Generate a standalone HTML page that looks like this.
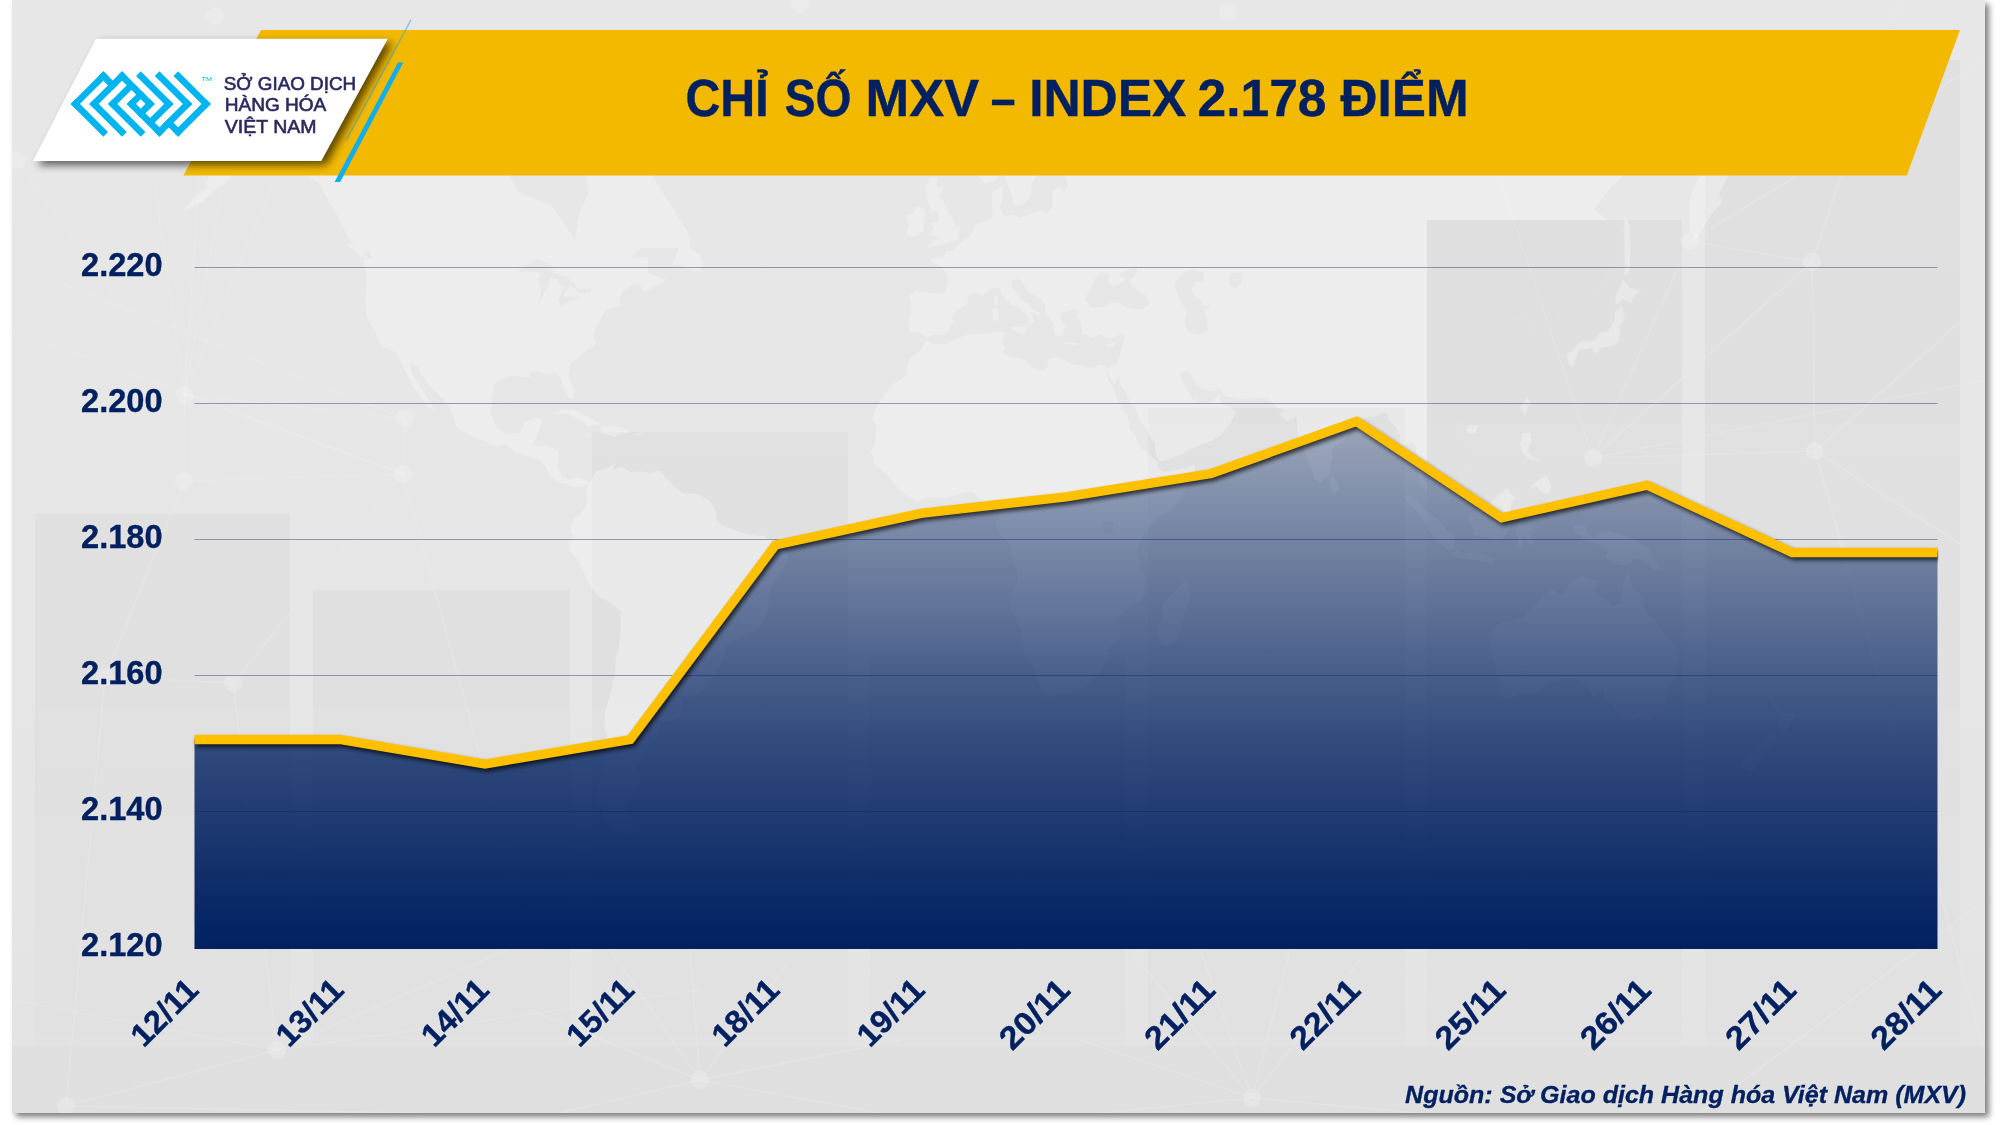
<!DOCTYPE html>
<html lang="vi"><head><meta charset="utf-8"><title>CHỈ SỐ MXV – INDEX</title>
<style>
html,body{margin:0;padding:0;background:#fff;}
body{width:2000px;height:1125px;overflow:hidden;position:relative;font-family:"Liberation Sans",sans-serif;}
#panel{position:absolute;left:12px;top:0;width:1973px;height:1113px;background:linear-gradient(#e7e7e7,#e6e6e6 60%,#e3e3e3);box-shadow:4px 4px 6px rgba(0,0,0,.5);}
svg{position:absolute;left:0;top:0;will-change:transform;}
text{font-family:"Liberation Sans",sans-serif;}
</style></head><body>
<div id="panel"></div>
<svg width="2000" height="1125" viewBox="0 0 2000 1125">
<defs>
<linearGradient id="ag" x1="0" y1="421" x2="0" y2="948.5" gradientUnits="userSpaceOnUse">
<stop offset="0" stop-color="#002060" stop-opacity=".31"/>
<stop offset="0.605" stop-color="#002060" stop-opacity=".776"/>
<stop offset="0.737" stop-color="#002060" stop-opacity=".853"/>
<stop offset="0.87" stop-color="#002060" stop-opacity=".935"/>
<stop offset="1" stop-color="#002060" stop-opacity="1"/>
</linearGradient>
<filter id="ls" x="-5%" y="-20%" width="110%" height="140%"><feGaussianBlur in="SourceAlpha" stdDeviation="2.2"/><feOffset dx="1.5" dy="3.2"/><feComponentTransfer><feFuncA type="linear" slope=".7"/></feComponentTransfer></filter>
<filter id="bs" x="-10%" y="-20%" width="125%" height="150%"><feGaussianBlur in="SourceAlpha" stdDeviation="4"/><feOffset dx="5" dy="4"/><feComponentTransfer><feFuncA type="linear" slope=".62"/></feComponentTransfer></filter>
<linearGradient id="bg" x1="0" y1="60" x2="0" y2="1113" gradientUnits="userSpaceOnUse"><stop offset="0" stop-color="#000" stop-opacity=".028"/><stop offset=".55" stop-color="#000" stop-opacity=".024"/><stop offset="1" stop-color="#000" stop-opacity=".007"/></linearGradient>
<linearGradient id="lg" x1="1300" y1="0" x2="1480" y2="0" gradientUnits="userSpaceOnUse"><stop offset="0" stop-color="#fff" stop-opacity=".27"/><stop offset="1" stop-color="#fff" stop-opacity="0"/></linearGradient>
<linearGradient id="dg" x1="1380" y1="0" x2="1520" y2="0" gradientUnits="userSpaceOnUse"><stop offset="0" stop-color="#000" stop-opacity="0"/><stop offset="1" stop-color="#000" stop-opacity=".03"/></linearGradient>
<mask id="hm" maskUnits="userSpaceOnUse" x="0" y="0" width="2000" height="1125"><rect width="2000" height="1125" fill="#fff"/><path d="M1090.2,307.6 1102.0,307.6 1111.5,302.5 1118.5,302.5 1125.6,306.9 1132.7,308.8 1142.2,308.8 1149.3,305.0 1146.9,296.1 1139.8,292.2 1132.7,286.3 1129.4,280.9 1135.1,276.2 1137.5,267.9 1130.4,269.3 1119.5,274.1 1125.6,280.3 1120.9,282.9 1112.4,286.9 1107.7,279.6 1110.0,274.8 1102.0,272.1 1095.8,277.6 1093.5,282.9 1088.8,290.9 1085.4,299.3ZM1177.7,278.9 1184.8,272.8 1194.2,269.3 1203.7,272.8 1203.7,281.6 1195.6,281.6 1194.2,287.6 1190.9,286.9 1193.3,296.1 1199.0,298.0 1202.7,305.7 1210.8,305.7 1203.7,311.9 1207.5,320.0 1207.5,331.4 1199.0,334.4 1191.9,333.2 1186.2,329.6 1184.3,322.4 1187.1,311.9 1182.4,303.8 1177.7,294.8 1174.4,286.3ZM1229.7,272.8 1241.5,272.8 1241.5,282.9 1234.4,289.6 1228.8,284.3ZM517.8,270.7 536.8,258.8 551.0,263.7 553.3,272.8 565.1,276.2 574.6,282.9 577.0,292.8 591.2,292.8 591.2,288.3 579.3,289.6 567.5,286.3 562.8,296.1 579.3,297.4 560.4,305.7 559.0,299.3 562.8,289.6 558.0,279.6 551.0,277.6 546.2,289.6 537.7,303.8 541.5,289.6 538.2,279.6 541.5,272.8 527.3,271.4ZM1104.4,520.4 1113.8,521.8 1112.4,532.7 1104.4,533.6 1102.9,526.5Z" fill="#000"/></mask>
<clipPath id="lc"><rect x="190" y="380" width="1748.3" height="580"/></clipPath>
<clipPath id="mc"><rect x="12" y="60" width="1973" height="1053"/></clipPath>
<clipPath id="b6"><rect x="1427" y="220" width="255" height="893"/></clipPath>
<clipPath id="pc"><rect x="12" y="0" width="1973" height="1113"/></clipPath>
</defs>
<g clip-path="url(#pc)">
<g fill="url(#bg)"><rect x="35" y="514" width="255" height="532"/><rect x="313" y="590" width="257" height="456"/><rect x="592" y="432" width="256" height="614"/><rect x="870" y="655" width="255" height="391"/><rect x="1148" y="408" width="257" height="638"/><rect x="1427" y="220" width="255" height="826"/><rect x="1705" y="60" width="255" height="986"/></g>
<rect x="12" y="1046" width="1973" height="67" fill="#000" fill-opacity=".017"/>
<g clip-path="url(#mc)"><path d="M167.8,77.9 215.1,37.3 286.1,51.5 347.6,51.5 409.0,77.9 442.2,77.9 503.6,77.9 536.8,71.5 565.1,65.0 569.9,102.1 546.2,124.5 517.8,145.4 508.4,174.2 517.8,192.1 551.0,204.8 565.1,225.1 574.6,240.5 579.3,213.1 588.8,192.1 584.1,164.9 586.4,140.3 607.7,145.4 621.9,155.3 626.6,174.2 645.5,164.9 659.7,187.7 673.9,209.0 688.1,232.9 688.1,247.9 669.2,247.9 640.8,247.9 631.4,258.8 647.9,256.6 647.9,272.8 664.5,279.6 669.2,272.8 664.5,281.6 643.2,292.8 640.8,286.3 636.1,282.9 621.9,291.5 619.5,302.5 621.9,305.0 605.3,310.1 603.0,315.0 595.9,327.2 593.5,336.1 595.9,343.7 586.4,350.6 579.3,356.3 569.9,364.7 568.5,375.7 574.6,391.7 573.2,398.6 568.9,398.0 561.8,384.8 561.8,378.4 555.7,372.9 548.6,374.6 536.8,371.3 529.7,372.9 529.7,377.3 522.6,376.7 508.4,375.7 494.2,383.8 492.8,394.4 490.4,412.5 496.6,427.7 506.0,434.2 520.2,432.7 524.9,421.2 536.8,417.6 542.4,420.2 539.1,430.2 535.8,437.7 533.0,446.1 546.2,446.1 559.0,450.0 557.1,467.0 562.8,478.1 569.9,480.0 577.0,476.7 586.4,480.5 588.8,483.8 582.6,487.2 574.6,487.2 566.6,483.8 560.4,482.4 548.6,474.3 546.2,467.0 539.1,459.8 527.3,456.4 515.5,452.5 506.0,444.1 496.6,446.6 484.7,441.7 470.5,435.2 456.3,427.7 454.0,417.6 449.3,407.4 442.2,398.0 435.1,390.7 428.0,383.8 420.9,374.0 417.6,365.8 410.0,363.6 411.4,372.9 419.5,384.8 425.6,394.4 431.3,404.8 435.1,410.0 430.3,408.4 422.3,399.6 413.8,388.0 409.0,378.4 404.3,369.1 399.1,359.1 392.5,350.6 382.6,347.8 376.9,336.1 373.6,328.4 367.4,318.1 365.1,302.5 366.5,286.3 366.5,274.1 363.2,259.5 371.2,258.8 370.3,251.6 357.0,247.9 347.6,236.7 338.1,217.1 328.6,200.6 319.2,183.3 305.0,174.2 290.8,166.8 271.9,164.9 253.0,157.2 238.8,160.1 234.0,174.2 224.6,183.3 212.8,192.1 200.9,203.2 182.0,211.5 191.5,200.6 205.7,187.7 208.0,176.0 196.2,176.0 186.7,164.9 172.5,155.3 167.8,140.3 182.0,132.0 191.5,119.1 177.3,116.9 158.4,105.6 174.9,96.3 186.7,99.8 179.6,87.8ZM371.2,37.3 394.9,-46.6 480.0,-125.2 517.8,-182.7 621.9,-235.5 659.7,-199.2 612.4,-112.5 584.1,-66.9 574.6,-10.0 612.4,30.0 631.4,51.5 659.7,92.7 650.3,135.1 631.4,140.3 607.7,119.1 584.1,116.9 607.7,84.1 579.3,51.5 551.0,51.5 536.8,14.6 503.6,22.4 480.0,51.5 456.3,65.0 432.7,65.0 409.0,51.5ZM607.7,-88.7 631.4,-152.4 692.8,-209.6 811.1,-235.5 867.9,-152.4 858.4,-27.7 848.9,44.5 825.3,71.5 796.9,90.3 773.3,107.9 759.1,135.1 747.2,164.9 735.4,158.2 716.5,135.1 702.3,96.3 697.6,58.3 692.8,22.4 678.7,-37.0 640.8,-56.5ZM588.8,483.8 595.9,471.9 607.7,468.0 614.8,462.7 613.4,469.4 617.2,476.7 612.4,469.4 621.9,467.0 629.9,471.9 640.8,471.4 650.3,472.8 659.7,470.9 664.5,476.7 669.2,481.4 676.3,488.6 683.4,493.4 697.6,494.3 707.0,499.1 711.8,503.8 716.5,513.8 716.5,521.8 726.0,526.5 742.5,533.6 754.3,535.0 763.8,536.0 775.6,543.1 786.5,547.9 788.4,559.8 780.4,571.7 773.3,583.8 768.5,593.6 768.5,608.4 763.8,618.4 759.1,628.5 749.6,633.6 740.1,637.2 726.0,646.6 723.1,659.8 716.5,670.7 707.0,684.5 699.9,693.0 692.8,698.1 683.4,695.8 676.8,694.1 683.4,704.5 681.0,716.4 673.9,720.6 659.7,722.4 658.3,733.5 645.5,734.8 651.2,744.3 645.5,750.8 643.2,760.7 633.7,767.4 641.8,777.8 633.7,792.0 626.6,803.1 629.5,813.8 631.4,822.5 644.1,833.0 631.4,838.8 617.2,833.0 603.0,814.6 596.8,795.7 600.6,774.3 605.3,754.0 607.7,741.1 604.4,725.5 605.3,710.4 610.1,695.8 614.8,676.2 615.8,659.8 619.5,644.0 621.0,623.4 620.5,610.9 612.4,603.4 598.2,596.0 592.1,588.7 586.4,579.0 581.7,566.9 575.5,556.4 568.9,550.2 568.9,542.2 574.6,537.4 570.8,532.2 571.3,524.2 574.6,518.0 580.3,514.7 584.1,509.0 587.4,502.9 586.4,493.4 586.4,487.7ZM910.4,333.2 908.1,323.0 911.4,308.8 909.0,296.1 915.2,291.5 934.1,293.5 944.5,293.5 947.3,282.9 947.3,274.8 941.2,267.2 930.8,262.3 931.7,258.1 943.5,257.3 945.4,250.8 953.9,250.8 960.6,242.0 967.2,238.2 972.9,231.3 976.6,223.5 986.1,221.1 993.2,217.1 991.8,204.8 991.8,192.1 1002.7,185.9 1002.7,198.1 999.4,207.3 1004.1,217.1 1012.1,214.7 1020.2,217.9 1031.0,213.1 1040.5,210.6 1046.7,213.9 1052.3,207.3 1052.3,192.1 1059.4,185.9 1064.2,192.1 1067.9,185.0 1064.2,172.4 1073.6,169.6 1085.4,169.6 1094.9,164.9 1085.4,160.1 1071.2,163.0 1059.4,165.8 1053.7,155.3 1053.3,135.1 1068.9,115.8 1072.7,107.9 1058.5,104.4 1052.3,119.1 1038.1,137.2 1034.4,155.3 1041.9,166.8 1032.0,183.3 1030.1,198.1 1020.6,204.8 1014.5,205.7 1006.0,178.8 1003.1,171.4 993.2,181.5 983.7,183.3 977.6,174.2 976.6,155.3 983.7,138.2 1000.3,124.5 1012.1,102.1 1021.6,77.9 1035.8,58.3 1052.3,48.7 1074.6,37.3 1087.8,40.2 1099.6,51.5 1109.1,59.7 1132.7,67.6 1146.9,84.1 1146.9,98.6 1132.7,99.8 1113.8,93.9 1117.6,119.1 1130.4,125.6 1132.7,115.8 1144.6,119.1 1142.2,104.4 1154.0,96.3 1162.5,98.6 1162.5,74.1 1172.9,77.9 1189.5,75.4 1208.4,72.8 1225.0,68.9 1241.5,55.6 1260.5,65.0 1274.6,72.8 1279.4,51.5 1269.9,37.3 1277.0,9.9 1295.9,9.9 1297.3,37.3 1293.6,65.0 1300.7,90.3 1303.0,65.0 1307.8,22.4 1321.9,17.8 1333.8,-1.5 1359.8,-6.6 1364.5,-27.7 1397.6,-46.6 1426.0,-77.6 1447.3,-77.6 1459.1,-56.5 1482.8,-52.5 1489.9,-4.9 1515.9,6.7 1539.5,-4.9 1558.4,14.6 1567.9,37.3 1586.8,30.0 1610.5,30.0 1615.2,13.1 1643.6,16.2 1667.2,32.9 1695.6,37.3 1709.8,55.6 1733.5,58.3 1759.5,58.3 1761.8,51.5 1785.5,54.2 1804.4,65.0 1828.1,84.1 1851.7,102.1 1842.2,111.3 1823.3,107.9 1809.1,102.1 1799.7,115.8 1792.6,121.3 1802.0,138.2 1785.5,145.4 1768.9,155.3 1757.1,164.9 1740.5,164.9 1726.4,178.8 1719.3,193.8 1721.6,202.3 1712.2,213.1 1705.1,225.1 1695.6,240.5 1689.5,229.0 1689.5,200.6 1695.6,183.3 1709.8,160.1 1724.0,142.3 1712.2,147.4 1695.6,149.4 1683.8,167.7 1664.9,169.6 1643.6,171.4 1627.0,171.4 1610.5,187.7 1593.9,209.0 1603.4,217.1 1615.2,225.1 1621.3,231.3 1617.6,244.2 1617.6,258.8 1609.1,272.8 1598.6,286.3 1586.8,296.1 1576.4,294.8 1571.2,299.3 1566.5,306.9 1557.0,316.3 1563.2,327.2 1565.5,339.1 1562.2,344.9 1551.3,348.3 1550.4,339.1 1552.8,331.4 1544.2,327.2 1545.7,318.1 1539.5,316.3 1527.7,322.4 1529.1,310.7 1518.2,316.3 1509.7,321.2 1513.5,327.2 1515.9,331.4 1525.3,329.6 1532.4,332.0 1524.4,337.3 1517.3,344.9 1522.0,351.8 1529.1,363.0 1525.3,370.2 1530.1,374.0 1528.2,382.1 1520.6,391.7 1515.9,399.6 1508.8,406.4 1499.3,411.0 1490.8,413.6 1480.4,417.6 1474.7,418.6 1474.7,423.7 1471.9,417.6 1465.3,417.1 1457.7,422.7 1453.4,430.2 1459.1,440.2 1466.2,446.6 1470.0,457.3 1469.5,466.1 1460.5,471.9 1456.7,476.7 1449.7,480.5 1449.2,474.3 1442.6,470.9 1437.8,464.6 1430.7,461.2 1426.9,458.3 1425.1,467.0 1422.7,477.6 1427.4,486.2 1433.1,490.0 1441.6,502.9 1443.0,512.3 1445.4,515.2 1437.8,512.3 1432.1,508.1 1427.9,495.7 1423.6,488.6 1418.0,483.8 1418.9,474.3 1418.9,464.6 1416.5,454.9 1415.1,443.6 1409.4,441.7 1403.8,446.1 1399.0,444.1 1400.0,435.2 1396.2,426.7 1389.6,421.2 1387.2,413.6 1381.1,412.5 1376.3,416.1 1369.2,416.6 1364.5,418.6 1363.6,423.7 1355.0,427.7 1348.0,435.2 1342.3,441.7 1335.2,446.1 1331.4,450.0 1332.8,458.3 1330.5,466.1 1330.5,472.8 1326.7,477.6 1322.9,480.0 1319.6,483.4 1314.8,479.1 1311.1,467.0 1306.8,459.8 1304.4,450.0 1299.7,440.2 1297.3,430.2 1296.9,420.2 1295.9,415.1 1293.6,419.2 1286.5,421.2 1279.4,414.1 1284.1,410.5 1277.0,407.4 1271.3,401.2 1267.5,397.5 1255.7,398.0 1243.9,399.1 1232.1,397.5 1224.0,395.9 1221.7,389.1 1212.2,391.2 1203.7,389.1 1196.6,384.3 1192.8,377.3 1189.5,371.8 1183.8,371.3 1180.0,374.6 1183.4,382.7 1189.5,390.7 1190.4,396.5 1194.2,401.7 1195.6,394.4 1197.1,402.2 1203.7,404.3 1210.8,403.3 1217.9,395.4 1219.8,392.8 1220.2,401.2 1224.0,405.3 1230.7,406.9 1235.9,412.5 1231.1,421.7 1225.9,430.2 1220.2,435.2 1213.2,440.2 1199.9,445.1 1189.5,450.0 1180.0,454.9 1168.2,459.8 1159.7,461.2 1157.3,457.3 1155.0,450.0 1155.0,442.7 1149.3,435.2 1144.6,426.2 1138.4,418.6 1136.5,410.0 1130.4,403.3 1127.1,394.4 1120.0,383.8 1118.1,375.7 1115.2,384.8 1111.5,381.1 1107.7,373.5 1106.7,367.4 1114.8,365.8 1118.1,360.2 1120.9,351.2 1123.3,342.0 1124.2,335.0 1118.5,335.0 1112.4,337.9 1106.7,338.5 1099.6,334.4 1092.5,337.9 1086.4,335.0 1082.1,333.2 1080.7,324.8 1079.3,320.0 1076.9,317.5 1077.4,313.2 1079.8,311.3 1076.0,309.5 1071.2,309.5 1066.5,310.7 1064.2,313.8 1060.8,311.9 1060.4,318.1 1062.7,321.8 1066.5,327.2 1062.7,330.2 1062.7,336.1 1059.0,336.1 1055.6,334.4 1053.3,328.4 1053.7,324.8 1051.4,321.2 1047.6,316.9 1044.8,311.9 1045.2,304.4 1040.5,299.3 1033.4,294.8 1026.3,289.6 1021.6,281.6 1017.8,278.9 1011.2,280.9 1011.2,287.6 1017.3,292.8 1020.2,299.3 1024.9,303.1 1029.6,303.8 1028.7,306.3 1034.4,309.5 1040.5,313.8 1039.1,316.3 1033.4,311.9 1031.5,316.3 1034.4,321.2 1031.0,324.8 1027.3,327.8 1027.7,322.4 1029.2,319.3 1026.3,314.4 1022.5,311.3 1018.3,307.6 1011.2,304.4 1005.0,299.3 1001.7,294.1 999.4,288.9 994.6,286.9 988.5,290.9 982.3,295.4 975.2,293.5 969.6,294.1 967.2,299.3 968.1,303.8 963.4,306.9 956.8,310.1 951.6,318.1 953.9,323.0 949.7,328.4 944.5,334.4 932.2,335.0 927.5,338.5 923.2,335.5 918.5,332.0ZM925.6,340.2 934.1,343.7 943.5,344.3 953.0,340.2 967.2,334.4 986.1,333.2 1000.3,331.4 1005.0,333.8 1002.7,342.0 1005.0,350.6 1001.2,351.8 1007.4,355.7 1015.4,356.9 1025.4,360.2 1033.4,367.4 1045.2,370.7 1048.5,364.7 1047.6,359.1 1054.7,356.9 1062.7,359.1 1072.2,364.1 1083.1,366.3 1092.5,368.0 1099.6,364.7 1105.8,365.8 1106.7,372.9 1107.7,378.4 1112.4,386.4 1116.2,397.0 1120.9,404.8 1121.9,410.0 1127.5,415.1 1129.4,422.7 1129.0,427.7 1135.1,435.2 1138.9,446.1 1146.0,451.5 1154.0,458.8 1157.8,462.2 1156.4,466.6 1163.5,471.9 1172.9,470.4 1184.8,468.0 1195.2,465.1 1194.2,471.9 1190.9,480.0 1184.8,491.0 1180.0,500.5 1170.6,510.0 1161.1,516.1 1151.7,525.6 1146.9,531.3 1142.2,536.9 1138.9,544.5 1136.5,552.6 1139.8,559.8 1140.8,569.3 1144.6,572.7 1145.0,583.8 1145.5,593.6 1139.8,600.9 1130.4,606.9 1123.3,613.4 1117.6,618.4 1120.0,628.5 1120.9,638.8 1111.5,645.6 1108.1,649.2 1108.1,659.8 1101.0,669.0 1094.9,677.8 1086.4,686.2 1078.3,691.8 1068.9,693.6 1057.1,694.1 1047.6,697.6 1040.5,694.1 1039.1,684.5 1034.8,673.4 1031.0,663.1 1024.9,654.5 1021.6,638.8 1021.6,631.1 1015.4,618.4 1008.8,605.9 1010.7,593.6 1016.9,581.4 1018.3,571.7 1014.5,562.2 1011.2,550.2 1008.8,543.1 1000.3,535.0 995.6,526.5 997.0,519.4 999.4,510.0 998.4,503.8 994.2,500.5 986.1,501.0 980.4,501.4 974.3,492.4 966.2,491.9 957.7,494.3 945.9,498.1 938.8,497.6 929.4,497.2 917.5,501.0 910.4,498.1 898.6,489.1 891.5,480.0 888.2,475.7 882.0,470.4 874.0,463.2 873.5,457.3 870.2,451.5 875.0,445.1 875.4,432.7 876.4,425.2 872.6,420.2 873.5,414.1 877.3,405.8 883.0,396.5 889.1,389.1 892.5,383.8 901.0,379.4 906.6,374.0 906.6,364.7 910.4,358.0 917.5,352.9 921.3,349.5ZM1186.2,579.0 1190.9,596.0 1187.1,605.9 1182.4,623.4 1176.7,641.4 1168.2,646.6 1161.1,644.0 1158.8,633.6 1157.8,626.0 1162.5,618.4 1162.5,603.4 1168.2,598.5 1175.3,592.6 1180.0,586.3ZM1492.2,628.5 1489.9,641.4 1489.9,651.9 1494.6,662.5 1499.3,678.9 1497.0,694.7 1508.8,698.7 1518.2,694.1 1537.2,692.4 1549.0,683.4 1563.2,679.5 1575.0,678.9 1586.8,685.6 1593.9,697.6 1603.4,687.3 1604.8,701.6 1612.8,704.5 1617.6,716.4 1631.8,721.2 1638.8,717.6 1645.9,722.4 1653.0,715.8 1662.5,712.2 1666.3,698.7 1669.6,687.3 1675.3,678.9 1679.1,662.5 1676.7,646.6 1667.2,636.2 1660.1,628.5 1655.4,619.9 1645.0,613.4 1642.6,603.4 1640.3,593.6 1633.2,590.2 1630.3,579.0 1627.0,572.7 1623.2,582.9 1622.3,593.6 1619.9,603.4 1612.8,605.9 1603.4,598.5 1596.3,595.0 1593.9,588.7 1599.6,579.9 1591.6,579.0 1582.1,576.6 1572.6,579.9 1567.9,586.3 1565.5,593.6 1558.4,593.6 1551.3,588.7 1544.2,595.0 1537.2,603.4 1531.0,608.4 1525.3,616.4 1513.5,619.9 1504.0,621.9ZM1572.6,525.6 1584.5,525.1 1587.8,533.6 1593.9,537.4 1603.4,529.8 1612.8,532.2 1619.9,534.1 1631.8,538.4 1641.2,544.5 1650.7,550.2 1650.7,555.0 1660.1,566.9 1664.9,571.7 1653.0,569.3 1643.6,561.2 1634.1,558.3 1629.4,564.5 1619.9,565.0 1610.5,559.8 1605.7,557.4 1608.1,552.6 1603.4,546.4 1593.9,542.6 1584.5,540.7 1581.1,536.0 1577.4,533.6ZM1468.6,514.7 1475.7,513.3 1480.4,508.6 1487.5,505.2 1494.6,499.1 1501.7,492.4 1506.4,488.6 1511.1,494.3 1515.9,498.1 1511.1,502.9 1510.2,510.0 1513.5,517.1 1508.8,521.8 1508.8,528.9 1503.1,538.4 1494.6,540.7 1487.5,536.9 1480.4,536.9 1473.3,535.0 1473.3,527.9 1468.6,523.2ZM1403.8,495.7 1414.2,497.2 1418.9,503.8 1428.4,512.3 1435.5,518.0 1442.6,524.2 1447.3,531.3 1454.4,536.0 1453.9,549.3 1447.3,549.3 1437.8,541.7 1430.7,533.6 1426.0,525.6 1419.9,514.7 1414.2,508.6 1407.1,502.9ZM1451.1,554.0 1456.7,550.2 1466.2,553.6 1478.0,552.6 1486.5,555.0 1494.6,558.3 1494.1,562.6 1482.8,561.2 1463.8,558.8 1456.7,556.9ZM1518.2,547.9 1518.2,538.4 1515.9,531.3 1519.7,520.4 1525.3,516.1 1534.8,517.1 1544.2,514.2 1541.9,519.4 1532.4,519.9 1524.4,519.9 1522.0,526.1 1527.7,526.1 1536.2,525.6 1531.5,531.3 1527.7,531.3 1531.5,537.4 1533.8,544.5 1528.6,544.5 1525.3,536.9 1522.5,536.0 1523.0,547.9ZM1523.0,432.7 1531.0,433.2 1531.5,442.7 1527.7,450.0 1530.1,454.9 1539.5,461.2 1534.8,459.8 1525.3,456.4 1522.0,451.0 1519.7,444.1ZM1530.1,488.6 1537.2,480.5 1546.6,475.2 1551.3,486.2 1549.9,491.9 1546.6,494.8 1540.5,491.0 1537.2,486.2ZM1572.2,350.6 1579.7,342.0 1593.9,340.8 1600.1,333.2 1608.1,331.4 1614.3,321.2 1615.2,311.3 1621.8,306.3 1624.7,318.1 1619.9,326.0 1619.9,333.2 1618.5,342.0 1614.3,344.9 1609.1,346.6 1601.0,347.2 1599.6,349.5 1595.3,353.5 1591.6,347.8 1582.1,349.5 1577.4,351.8 1576.4,357.4 1572.6,366.3 1569.3,365.8 1567.9,359.1 1566.5,354.6 1570.3,351.8ZM1615.2,302.5 1616.6,294.1 1623.2,279.6 1629.4,287.6 1640.3,290.9 1634.1,296.1 1630.3,302.5 1622.3,298.7 1617.6,305.0ZM1624.7,214.7 1629.4,225.1 1630.8,247.9 1629.4,269.3 1624.7,276.2 1624.7,255.2 1623.7,232.9ZM1527.7,398.6 1530.1,402.2 1524.4,415.1 1520.6,407.4 1524.4,400.7ZM1331.4,475.2 1337.5,481.4 1339.9,488.6 1334.7,493.4 1330.5,488.6 1330.0,481.4ZM1468.6,425.2 1478.0,425.2 1475.7,432.2 1469.5,434.2 1466.7,430.2ZM927.0,247.9 936.4,245.7 948.3,242.7 959.1,239.0 957.7,234.4 961.0,227.4 953.9,225.1 953.0,219.5 946.9,210.6 943.5,200.6 939.8,198.1 943.5,186.8 935.0,185.9 938.8,177.9 929.4,177.9 926.0,187.7 927.0,198.1 929.4,204.8 930.3,210.6 937.4,210.6 938.8,218.7 938.8,221.9 931.7,222.7 933.1,229.0 930.3,232.9 928.4,235.2 936.4,236.7 938.8,238.2 931.7,240.5ZM923.7,231.3 915.2,235.9 905.7,235.2 908.1,225.1 905.7,217.1 912.8,213.1 917.5,206.5 924.6,209.0 925.6,213.1 923.7,221.1ZM839.5,107.9 848.9,97.4 867.9,102.1 877.3,96.3 889.1,113.5 882.0,121.3 867.9,130.9 856.0,128.8 846.6,126.7 848.9,119.1 839.5,114.7ZM1769.9,695.8 1778.4,707.5 1785.5,713.4 1796.4,714.6 1790.2,725.5 1782.2,737.9 1779.8,728.6 1775.1,724.3 1779.3,716.4ZM1769.9,732.3 1777.0,737.9 1769.9,750.8 1761.8,760.7 1752.4,771.5 1740.5,766.0 1750.0,754.0 1761.8,743.0ZM1012.1,327.2 1026.8,326.0 1024.4,335.0 1012.1,329.6ZM992.3,308.8 998.9,308.8 998.4,320.0 993.2,321.2ZM993.7,296.7 997.9,296.1 997.5,305.7 994.2,304.4ZM1064.2,342.0 1077.4,343.1 1076.0,344.9 1064.6,343.7ZM1105.8,344.9 1116.2,341.4 1113.8,346.0 1106.7,346.6ZM551.4,415.6 562.8,409.5 574.6,410.0 588.8,417.6 602.0,424.2 586.4,425.7 584.1,421.7 572.2,416.1 565.1,413.0ZM601.1,426.2 610.1,425.7 621.9,426.7 629.5,432.2 621.9,433.7 614.8,436.7 607.7,434.2 601.1,433.2ZM582.6,433.2 592.1,434.7 587.4,436.2ZM635.1,433.2 642.2,433.7 640.8,435.5 635.1,435.2ZM672.5,264.4 681.0,242.0 689.5,236.7 690.5,247.9 699.9,255.2 703.3,267.2 697.6,270.7 689.1,269.3 681.0,265.1ZM346.6,242.7 360.3,246.4 369.3,259.5 359.4,255.9Z" fill="#fff" fill-opacity=".27" mask="url(#hm)"/></g>
<g clip-path="url(#b6)"><path d="M910.4,333.2 908.1,323.0 911.4,308.8 909.0,296.1 915.2,291.5 934.1,293.5 944.5,293.5 947.3,282.9 947.3,274.8 941.2,267.2 930.8,262.3 931.7,258.1 943.5,257.3 945.4,250.8 953.9,250.8 960.6,242.0 967.2,238.2 972.9,231.3 976.6,223.5 986.1,221.1 993.2,217.1 991.8,204.8 991.8,192.1 1002.7,185.9 1002.7,198.1 999.4,207.3 1004.1,217.1 1012.1,214.7 1020.2,217.9 1031.0,213.1 1040.5,210.6 1046.7,213.9 1052.3,207.3 1052.3,192.1 1059.4,185.9 1064.2,192.1 1067.9,185.0 1064.2,172.4 1073.6,169.6 1085.4,169.6 1094.9,164.9 1085.4,160.1 1071.2,163.0 1059.4,165.8 1053.7,155.3 1053.3,135.1 1068.9,115.8 1072.7,107.9 1058.5,104.4 1052.3,119.1 1038.1,137.2 1034.4,155.3 1041.9,166.8 1032.0,183.3 1030.1,198.1 1020.6,204.8 1014.5,205.7 1006.0,178.8 1003.1,171.4 993.2,181.5 983.7,183.3 977.6,174.2 976.6,155.3 983.7,138.2 1000.3,124.5 1012.1,102.1 1021.6,77.9 1035.8,58.3 1052.3,48.7 1074.6,37.3 1087.8,40.2 1099.6,51.5 1109.1,59.7 1132.7,67.6 1146.9,84.1 1146.9,98.6 1132.7,99.8 1113.8,93.9 1117.6,119.1 1130.4,125.6 1132.7,115.8 1144.6,119.1 1142.2,104.4 1154.0,96.3 1162.5,98.6 1162.5,74.1 1172.9,77.9 1189.5,75.4 1208.4,72.8 1225.0,68.9 1241.5,55.6 1260.5,65.0 1274.6,72.8 1279.4,51.5 1269.9,37.3 1277.0,9.9 1295.9,9.9 1297.3,37.3 1293.6,65.0 1300.7,90.3 1303.0,65.0 1307.8,22.4 1321.9,17.8 1333.8,-1.5 1359.8,-6.6 1364.5,-27.7 1397.6,-46.6 1426.0,-77.6 1447.3,-77.6 1459.1,-56.5 1482.8,-52.5 1489.9,-4.9 1515.9,6.7 1539.5,-4.9 1558.4,14.6 1567.9,37.3 1586.8,30.0 1610.5,30.0 1615.2,13.1 1643.6,16.2 1667.2,32.9 1695.6,37.3 1709.8,55.6 1733.5,58.3 1759.5,58.3 1761.8,51.5 1785.5,54.2 1804.4,65.0 1828.1,84.1 1851.7,102.1 1842.2,111.3 1823.3,107.9 1809.1,102.1 1799.7,115.8 1792.6,121.3 1802.0,138.2 1785.5,145.4 1768.9,155.3 1757.1,164.9 1740.5,164.9 1726.4,178.8 1719.3,193.8 1721.6,202.3 1712.2,213.1 1705.1,225.1 1695.6,240.5 1689.5,229.0 1689.5,200.6 1695.6,183.3 1709.8,160.1 1724.0,142.3 1712.2,147.4 1695.6,149.4 1683.8,167.7 1664.9,169.6 1643.6,171.4 1627.0,171.4 1610.5,187.7 1593.9,209.0 1603.4,217.1 1615.2,225.1 1621.3,231.3 1617.6,244.2 1617.6,258.8 1609.1,272.8 1598.6,286.3 1586.8,296.1 1576.4,294.8 1571.2,299.3 1566.5,306.9 1557.0,316.3 1563.2,327.2 1565.5,339.1 1562.2,344.9 1551.3,348.3 1550.4,339.1 1552.8,331.4 1544.2,327.2 1545.7,318.1 1539.5,316.3 1527.7,322.4 1529.1,310.7 1518.2,316.3 1509.7,321.2 1513.5,327.2 1515.9,331.4 1525.3,329.6 1532.4,332.0 1524.4,337.3 1517.3,344.9 1522.0,351.8 1529.1,363.0 1525.3,370.2 1530.1,374.0 1528.2,382.1 1520.6,391.7 1515.9,399.6 1508.8,406.4 1499.3,411.0 1490.8,413.6 1480.4,417.6 1474.7,418.6 1474.7,423.7 1471.9,417.6 1465.3,417.1 1457.7,422.7 1453.4,430.2 1459.1,440.2 1466.2,446.6 1470.0,457.3 1469.5,466.1 1460.5,471.9 1456.7,476.7 1449.7,480.5 1449.2,474.3 1442.6,470.9 1437.8,464.6 1430.7,461.2 1426.9,458.3 1425.1,467.0 1422.7,477.6 1427.4,486.2 1433.1,490.0 1441.6,502.9 1443.0,512.3 1445.4,515.2 1437.8,512.3 1432.1,508.1 1427.9,495.7 1423.6,488.6 1418.0,483.8 1418.9,474.3 1418.9,464.6 1416.5,454.9 1415.1,443.6 1409.4,441.7 1403.8,446.1 1399.0,444.1 1400.0,435.2 1396.2,426.7 1389.6,421.2 1387.2,413.6 1381.1,412.5 1376.3,416.1 1369.2,416.6 1364.5,418.6 1363.6,423.7 1355.0,427.7 1348.0,435.2 1342.3,441.7 1335.2,446.1 1331.4,450.0 1332.8,458.3 1330.5,466.1 1330.5,472.8 1326.7,477.6 1322.9,480.0 1319.6,483.4 1314.8,479.1 1311.1,467.0 1306.8,459.8 1304.4,450.0 1299.7,440.2 1297.3,430.2 1296.9,420.2 1295.9,415.1 1293.6,419.2 1286.5,421.2 1279.4,414.1 1284.1,410.5 1277.0,407.4 1271.3,401.2 1267.5,397.5 1255.7,398.0 1243.9,399.1 1232.1,397.5 1224.0,395.9 1221.7,389.1 1212.2,391.2 1203.7,389.1 1196.6,384.3 1192.8,377.3 1189.5,371.8 1183.8,371.3 1180.0,374.6 1183.4,382.7 1189.5,390.7 1190.4,396.5 1194.2,401.7 1195.6,394.4 1197.1,402.2 1203.7,404.3 1210.8,403.3 1217.9,395.4 1219.8,392.8 1220.2,401.2 1224.0,405.3 1230.7,406.9 1235.9,412.5 1231.1,421.7 1225.9,430.2 1220.2,435.2 1213.2,440.2 1199.9,445.1 1189.5,450.0 1180.0,454.9 1168.2,459.8 1159.7,461.2 1157.3,457.3 1155.0,450.0 1155.0,442.7 1149.3,435.2 1144.6,426.2 1138.4,418.6 1136.5,410.0 1130.4,403.3 1127.1,394.4 1120.0,383.8 1118.1,375.7 1115.2,384.8 1111.5,381.1 1107.7,373.5 1106.7,367.4 1114.8,365.8 1118.1,360.2 1120.9,351.2 1123.3,342.0 1124.2,335.0 1118.5,335.0 1112.4,337.9 1106.7,338.5 1099.6,334.4 1092.5,337.9 1086.4,335.0 1082.1,333.2 1080.7,324.8 1079.3,320.0 1076.9,317.5 1077.4,313.2 1079.8,311.3 1076.0,309.5 1071.2,309.5 1066.5,310.7 1064.2,313.8 1060.8,311.9 1060.4,318.1 1062.7,321.8 1066.5,327.2 1062.7,330.2 1062.7,336.1 1059.0,336.1 1055.6,334.4 1053.3,328.4 1053.7,324.8 1051.4,321.2 1047.6,316.9 1044.8,311.9 1045.2,304.4 1040.5,299.3 1033.4,294.8 1026.3,289.6 1021.6,281.6 1017.8,278.9 1011.2,280.9 1011.2,287.6 1017.3,292.8 1020.2,299.3 1024.9,303.1 1029.6,303.8 1028.7,306.3 1034.4,309.5 1040.5,313.8 1039.1,316.3 1033.4,311.9 1031.5,316.3 1034.4,321.2 1031.0,324.8 1027.3,327.8 1027.7,322.4 1029.2,319.3 1026.3,314.4 1022.5,311.3 1018.3,307.6 1011.2,304.4 1005.0,299.3 1001.7,294.1 999.4,288.9 994.6,286.9 988.5,290.9 982.3,295.4 975.2,293.5 969.6,294.1 967.2,299.3 968.1,303.8 963.4,306.9 956.8,310.1 951.6,318.1 953.9,323.0 949.7,328.4 944.5,334.4 932.2,335.0 927.5,338.5 923.2,335.5 918.5,332.0Z" fill="#000" fill-opacity=".04"/></g>
<g stroke="#fff" stroke-opacity=".13" stroke-width="1.1" fill="#fff" fill-opacity=".17"><line x1="184.5" y1="395" x2="405" y2="418"/><line x1="184.5" y1="395" x2="403" y2="474"/><line x1="184.5" y1="395" x2="184" y2="481"/><line x1="405" y1="418" x2="403" y2="474"/><line x1="403" y1="474" x2="184" y2="481"/><line x1="184.5" y1="395" x2="17" y2="160"/><line x1="184" y1="481" x2="105" y2="677"/><line x1="105" y1="677" x2="233" y2="683"/><line x1="403" y1="474" x2="233" y2="683"/><line x1="233" y1="683" x2="277" y2="1050"/><line x1="277" y1="1050" x2="66" y2="1106"/><line x1="105" y1="677" x2="66" y2="1106"/><line x1="1593" y1="458" x2="1815" y2="451"/><line x1="1593" y1="458" x2="1690" y2="241"/><line x1="1815" y1="451" x2="1812" y2="262"/><line x1="1690" y1="241" x2="1812" y2="262"/><line x1="1593" y1="458" x2="1812" y2="262"/><line x1="1815" y1="451" x2="1993" y2="1080"/><line x1="277" y1="1050" x2="530" y2="940"/><line x1="403" y1="474" x2="530" y2="940"/><line x1="700" y1="1080" x2="610" y2="950"/><line x1="700" y1="1080" x2="690" y2="950"/><line x1="700" y1="1080" x2="790" y2="960"/><line x1="700" y1="1080" x2="560" y2="1113"/><line x1="700" y1="1080" x2="880" y2="1113"/><line x1="700" y1="1080" x2="530" y2="1010"/><line x1="700" y1="1080" x2="900" y2="1040"/><line x1="1252" y1="1098" x2="1130" y2="950"/><line x1="1252" y1="1098" x2="1200" y2="950"/><line x1="1252" y1="1098" x2="1290" y2="950"/><line x1="1252" y1="1098" x2="1360" y2="960"/><line x1="1252" y1="1098" x2="1100" y2="1113"/><line x1="1252" y1="1098" x2="1420" y2="1113"/><line x1="1252" y1="1098" x2="1080" y2="1040"/><line x1="184.5" y1="395" x2="154" y2="180"/><line x1="184.5" y1="395" x2="199" y2="180"/><line x1="184.5" y1="395" x2="223.5" y2="180"/><line x1="184.5" y1="395" x2="275" y2="180"/><line x1="60" y1="283" x2="403" y2="418"/><line x1="12" y1="330" x2="405" y2="474"/><line x1="1593" y1="458" x2="1985" y2="380"/><line x1="1815" y1="451" x2="1985" y2="300"/><line x1="1690" y1="241" x2="1985" y2="60"/><line x1="1812" y1="262" x2="1900" y2="0"/><line x1="1593" y1="458" x2="1500" y2="180"/><line x1="277" y1="1050" x2="700" y2="990"/><line x1="277" y1="1050" x2="12" y2="1000"/><line x1="66" y1="1106" x2="420" y2="1113"/><line x1="1700" y1="1113" x2="1985" y2="900"/><line x1="1815" y1="451" x2="1985" y2="560"/><circle cx="700" cy="1080" r="9" stroke="none"/><circle cx="1252" cy="1098" r="9" stroke="none"/><circle cx="184.5" cy="395" r="9" stroke="none"/><circle cx="405" cy="418" r="9" stroke="none"/><circle cx="403" cy="474" r="9" stroke="none"/><circle cx="184" cy="481" r="9" stroke="none"/><circle cx="1593" cy="458" r="9" stroke="none"/><circle cx="1815" cy="451" r="9" stroke="none"/><circle cx="1690" cy="241" r="9" stroke="none"/><circle cx="1812" cy="262" r="9" stroke="none"/><circle cx="215" cy="16" r="9" stroke="none"/><circle cx="17" cy="160" r="9" stroke="none"/><circle cx="105" cy="677" r="9" stroke="none"/><circle cx="233" cy="683" r="9" stroke="none"/><circle cx="277" cy="1050" r="9" stroke="none"/><circle cx="66" cy="1106" r="9" stroke="none"/><circle cx="1993" cy="1080" r="9" stroke="none"/><circle cx="530" cy="940" r="9" stroke="none"/><circle cx="800" cy="4" r="9" stroke="none"/><circle cx="1228" cy="12" r="9" stroke="none"/></g>
</g>
<!-- header bar -->
<polygon points="261,30 1960,30 1906.8,175.5 183.4,175.5" fill="#F2B900"/>
<line x1="411" y1="19.8" x2="345.9" y2="140.9" stroke="#29ABE2" stroke-opacity=".6" stroke-width="1.3"/>
<polygon points="96,38.7 387.8,38.7 321.3,161 32.9,161" fill="#000" filter="url(#bs)"/>
<polygon points="96,38.7 387.8,38.7 321.3,161 32.9,161" fill="#fff"/>
<polygon points="398,62.4 403.3,62.4 340.2,182 334.6,182" fill="#0FAEEF"/>
<g fill="#00B4EF" transform="matrix(4.675,4.675,4.675,-4.675,140.75,103.94)"><rect x="-7.5" y="-7.5" width="1.0" height="7.0"/><rect x="6.5" y="0.5" width="1.0" height="7.0"/><rect x="-7.5" y="-7.5" width="7.0" height="1.0"/><rect x="0.5" y="6.5" width="7.0" height="1.0"/><rect x="-7.5" y="-1.5" width="3.0" height="1.0"/><rect x="4.5" y="0.5" width="3.0" height="1.0"/><rect x="-5.5" y="-5.5" width="1.0" height="7.0"/><rect x="4.5" y="-1.5" width="1.0" height="7.0"/><rect x="-5.5" y="-5.5" width="7.0" height="1.0"/><rect x="-1.5" y="4.5" width="7.0" height="1.0"/><rect x="-5.5" y="0.5" width="7.0" height="1.0"/><rect x="-1.5" y="-1.5" width="7.0" height="1.0"/><rect x="-3.5" y="-3.5" width="1.0" height="4.2"/><rect x="2.5" y="-0.7" width="1.0" height="4.2"/><rect x="-3.5" y="-3.5" width="7.0" height="1.0"/><rect x="-3.5" y="2.5" width="7.0" height="1.0"/><rect x="-1.5" y="-1.5" width="1.0" height="3.0"/><rect x="0.5" y="-1.5" width="1.0" height="3.0"/></g>
<text x="201.5" y="80.5" font-size="5.6" fill="#00B4EF" textLength="10.5" lengthAdjust="spacingAndGlyphs">TM</text>
<g fill="#2B2A5E" stroke="#2B2A5E" stroke-width=".6" font-size="18.2">
<text x="223.74" y="89.5" textLength="132.49" lengthAdjust="spacingAndGlyphs">SỞ GIAO DỊCH</text>
<text x="224.67" y="111.2" textLength="101.66" lengthAdjust="spacingAndGlyphs">HÀNG HÓA</text>
<text x="224.86" y="133.2" textLength="91.76" lengthAdjust="spacingAndGlyphs">VIỆT NAM</text>
</g>
<g font-size="51" font-weight="bold" fill="#002060" stroke="#002060" stroke-width=".4"><text x="685.48" y="115.8" textLength="83.23" lengthAdjust="spacingAndGlyphs">CHỈ</text><text x="784.72" y="115.8" textLength="66.74" lengthAdjust="spacingAndGlyphs">SỐ</text><text x="865.61" y="115.8" textLength="113.49" lengthAdjust="spacingAndGlyphs">MXV</text><text x="990.71" y="115.8" textLength="24.75" lengthAdjust="spacingAndGlyphs">–</text><text x="1029.17" y="115.8" textLength="157.29" lengthAdjust="spacingAndGlyphs">INDEX</text><text x="1197.58" y="115.8" textLength="128.87" lengthAdjust="spacingAndGlyphs">2.178</text><text x="1340.59" y="115.8" textLength="127.99" lengthAdjust="spacingAndGlyphs">ĐIỂM</text></g>
<!-- chart -->
<polygon points="194.50,949.0 194.50,739.50 339.75,739.50 485.00,764.00 630.25,739.50 775.50,545.00 920.75,513.40 1066.00,496.80 1211.25,473.50 1356.50,421.40 1501.75,517.80 1647.00,485.10 1792.25,552.50 1937.50,552.50 1937.50,949.0" fill="url(#ag)"/>
<g stroke="#002060" stroke-opacity=".4" stroke-width="1"><line x1="194.5" x2="1937.5" y1="267.5" y2="267.5"/><line x1="194.5" x2="1937.5" y1="403.5" y2="403.5"/><line x1="194.5" x2="1937.5" y1="539.5" y2="539.5"/><line x1="194.5" x2="1937.5" y1="675.5" y2="675.5"/><line x1="194.5" x2="1937.5" y1="811.5" y2="811.5"/><line x1="194.5" x2="1937.5" y1="947.5" y2="947.5"/></g>
<g clip-path="url(#lc)"><polyline points="194.50,739.50 339.75,739.50 485.00,764.00 630.25,739.50 775.50,545.00 920.75,513.40 1066.00,496.80 1211.25,473.50 1356.50,421.40 1501.75,517.80 1647.00,485.10 1792.25,552.50 1937.50,552.50" fill="none" stroke="#000" stroke-width="9.3" stroke-linejoin="miter" filter="url(#ls)"/></g>
<polyline points="194.50,739.50 339.75,739.50 485.00,764.00 630.25,739.50 775.50,545.00 920.75,513.40 1066.00,496.80 1211.25,473.50 1356.50,421.40 1501.75,517.80 1647.00,485.10 1792.25,552.50 1937.50,552.50" fill="none" stroke="#FFC000" stroke-width="9.3" stroke-linejoin="miter"/>
<g font-size="32.3" font-weight="bold" fill="#002060" stroke="#002060" stroke-width=".35"><text x="81.02" y="275.9" textLength="81.5" lengthAdjust="spacingAndGlyphs">2.220</text><text x="81.02" y="411.9" textLength="81.5" lengthAdjust="spacingAndGlyphs">2.200</text><text x="81.02" y="547.9" textLength="81.5" lengthAdjust="spacingAndGlyphs">2.180</text><text x="81.02" y="683.9" textLength="81.5" lengthAdjust="spacingAndGlyphs">2.160</text><text x="81.02" y="819.9" textLength="81.5" lengthAdjust="spacingAndGlyphs">2.140</text><text x="81.02" y="955.9" textLength="81.5" lengthAdjust="spacingAndGlyphs">2.120</text></g>
<g font-size="32" font-weight="bold" fill="#002060" stroke="#002060" stroke-width=".35" text-anchor="end"><text transform="translate(200.38,991.9) rotate(-45) scale(1.023,1)" x="0" y="0">12/11</text><text transform="translate(345.63,991.9) rotate(-45) scale(1.023,1)" x="0" y="0">13/11</text><text transform="translate(490.88,991.9) rotate(-45) scale(1.023,1)" x="0" y="0">14/11</text><text transform="translate(636.13,991.9) rotate(-45) scale(1.023,1)" x="0" y="0">15/11</text><text transform="translate(781.38,991.9) rotate(-45) scale(1.023,1)" x="0" y="0">18/11</text><text transform="translate(926.63,991.9) rotate(-45) scale(1.023,1)" x="0" y="0">19/11</text><text transform="translate(1071.88,991.9) rotate(-45) scale(1.075,1)" x="0" y="0">20/11</text><text transform="translate(1217.13,991.9) rotate(-45) scale(1.075,1)" x="0" y="0">21/11</text><text transform="translate(1362.38,991.9) rotate(-45) scale(1.075,1)" x="0" y="0">22/11</text><text transform="translate(1507.63,991.9) rotate(-45) scale(1.075,1)" x="0" y="0">25/11</text><text transform="translate(1652.88,991.9) rotate(-45) scale(1.075,1)" x="0" y="0">26/11</text><text transform="translate(1798.13,991.9) rotate(-45) scale(1.075,1)" x="0" y="0">27/11</text><text transform="translate(1943.38,991.9) rotate(-45) scale(1.075,1)" x="0" y="0">28/11</text></g>
<text x="1405.14" y="1103.3" font-size="24" font-weight="bold" font-style="italic" fill="#002060" stroke="#002060" stroke-width=".3" textLength="561.03" lengthAdjust="spacingAndGlyphs">Nguồn: Sở Giao dịch Hàng hóa Việt Nam (MXV)</text>
</svg>
</body></html>
